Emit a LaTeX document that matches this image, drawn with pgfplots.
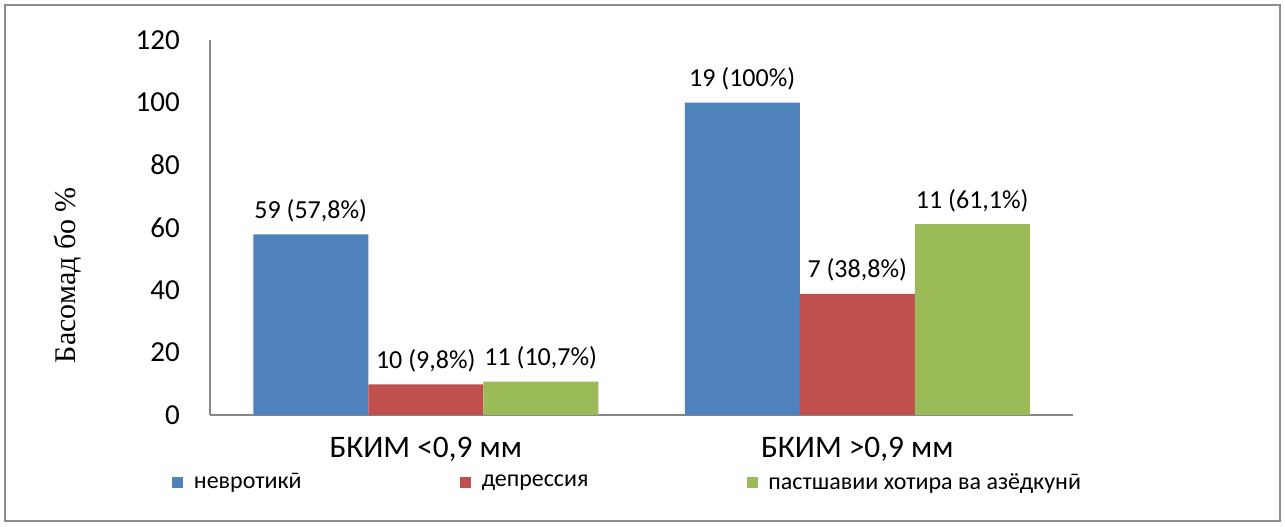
\documentclass[border=0pt]{standalone}
\usepackage{fontspec}
\setmainfont{Carlito}
\newfontfamily\labelserif{Liberation Serif}
\usepackage{pgfplots}
\pgfplotsset{compat=1.18}

\definecolor{cblue}{HTML}{4F81BD}
\definecolor{cred}{HTML}{C0504D}
\definecolor{cgreen}{HTML}{9BBB59}
\definecolor{axgray}{HTML}{868686}
\definecolor{framegray}{HTML}{8C8C8C}

\pgfplotsset{
  sqlegend/.style={legend image code/.code={\fill[##1] (0pt,-4.125pt) rectangle (8.25pt,4.125pt);}},
}

\begin{document}
\begin{tikzpicture}[x=0.75pt,y=0.75pt]
% page area and outer frame
\fill[white] (0,0) rectangle (1285,526);
\draw[framegray, line width=1.5pt] (5,5) rectangle (1280,521);

\begin{axis}[
  at={(157.5pt,83.25pt)}, anchor=south west,
  scale only axis, width=647.25pt, height=281.25pt,
  ybar=0pt, bar width=86.25pt,
  xmin=-0.5, xmax=1.5, ymin=0, ymax=120,
  enlargelimits=false,
  xtick={0,1},
  xticklabels={{БКИМ <0,9 мм}, {БКИМ >0,9 мм}},
  ytick={0,20,...,120},
  axis x line*=bottom, axis y line*=left,
  axis line style={draw=axgray, line width=1.2pt, -},
  major tick length=0pt,
  /pgf/number format/assume math mode=true,
  yticklabel style={font=\fontsize{21.75}{24}\selectfont, anchor=east, inner sep=0pt, xshift=-22.5pt},
  xticklabel style={font=\fontsize{23.5}{26}\selectfont, anchor=north, inner sep=0pt, yshift=-16.5pt},
  ylabel={Басомад бо \%},
  ylabel style={font=\labelserif\fontsize{22.5}{26}\selectfont, at={(axis description cs:-0.1645,0.373)}, anchor=center},
  point meta=explicit symbolic,
  nodes near coords={\pgfplotspointmeta},
  every node near coord/.append style={font=\fontsize{19.5}{22}\selectfont, text=black, anchor=south, inner sep=0pt, yshift=9pt},
  legend columns=3,
  legend style={draw=none, fill=none, at={(axis description cs:-0.044,-0.179)}, anchor=west,
    font=\fontsize{18}{20}\selectfont, inner sep=0pt,
    /tikz/every odd column/.append style={column sep=6pt},
    /tikz/every even column/.append style={column sep=116.8pt}},
]
\addplot[fill=cblue, draw=none, sqlegend] coordinates {(0,57.8) [59 (57,8\%)] (1,100) [19 (100\%)]};
\addplot[fill=cred, draw=none, sqlegend] coordinates {(0,9.8) [10 (9,8\%)] (1,38.8) [7 (38,8\%)]};
\addplot[fill=cgreen, draw=none, sqlegend] coordinates {(0,10.7) [11 (10,7\%)] (1,61.1) [11 (61,1\%)]};
\legend{невротикӣ, депрессия, пастшавии хотира ва азёдкунӣ}
\end{axis}
\end{tikzpicture}
\end{document}
